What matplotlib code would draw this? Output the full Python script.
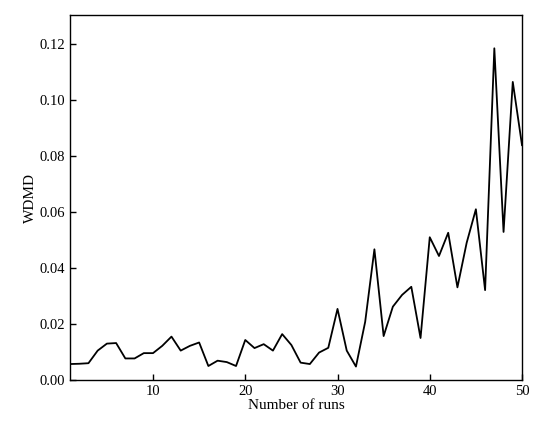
import matplotlib
matplotlib.use("Agg")
import matplotlib.pyplot as plt

runs = list(range(1, 51))
wdmd = [0.0057, 0.0058, 0.0060, 0.0105, 0.0130, 0.0132, 0.0077, 0.0077, 0.0096, 0.0096,
        0.0122, 0.0155, 0.0105, 0.0122, 0.0134, 0.0050, 0.0069, 0.0064, 0.0050, 0.0143,
        0.0114, 0.0128, 0.0105, 0.0164, 0.0125, 0.0062, 0.0057, 0.0098, 0.0115, 0.0254,
        0.0105, 0.0048, 0.0208, 0.0467, 0.0157, 0.0262, 0.0304, 0.0333, 0.0150, 0.0510,
        0.0443, 0.0526, 0.0331, 0.0490, 0.0610, 0.0321, 0.1185, 0.0529, 0.1065, 0.0839]
xticks = [10, 20, 30, 40, 50]
yticks = [0.00, 0.02, 0.04, 0.06, 0.08, 0.10, 0.12]

plt.rcParams['font.family'] = ['Liberation Serif', 'DejaVu Serif']
fig = plt.figure(figsize=(5.5, 4.23), dpi=100)
ax = fig.add_axes([70/550, 43/423, 452/550, 365/423])
ax.plot(runs, wdmd, color='black', linewidth=1.3)
ax.set_xlim(1, 50)
ax.set_ylim(0, 0.1304)
ax.set_xticks(xticks)
ax.set_yticks(yticks)
ax.set_yticklabels([f"{v:.2f}" for v in yticks])
ax.tick_params(direction='in', length=4, width=1, labelsize=10.5, top=False, right=False)
for s in ax.spines.values():
    s.set_linewidth(1.0)
ax.set_xlabel("Number of runs", fontsize=11, labelpad=1)
ax.set_ylabel("WDMD", fontsize=11, labelpad=2)
fig.savefig("out.png", dpi=100)
